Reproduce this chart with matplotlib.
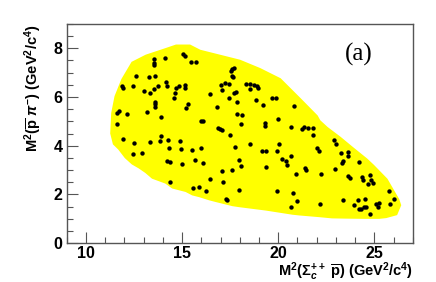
import matplotlib
matplotlib.use('Agg')
import matplotlib.pyplot as plt
from matplotlib.ticker import MultipleLocator

plt.rcParams['font.family'] = ['Liberation Sans', 'DejaVu Sans']
plt.rcParams['mathtext.fontset'] = 'custom'
plt.rcParams['mathtext.rm'] = 'Liberation Sans:bold'
plt.rcParams['mathtext.it'] = 'Liberation Sans:italic:bold'
plt.rcParams['mathtext.bf'] = 'Liberation Sans:bold'

# phase-space (MC) region outline
edge_x = [11.42, 11.37, 11.50, 11.76, 12.10, 12.45, 12.80, 13.15, 13.49, 14.18,
          14.53, 15.22, 15.56, 15.91, 16.43, 16.77, 17.64, 17.98, 19.37, 20.75,
          21.10, 22.14, 22.80, 23.51, 24.55, 25.24, 25.59, 26.10, 26.28, 26.19,
          25.59, 24.90, 24.55, 23.86, 23.17, 22.50, 22.10, 21.96, 21.10, 20.06,
          19.02, 17.98, 15.91, 15.39, 14.70, 14.18, 13.15, 12.45, 11.94, 11.59,
          11.42]
edge_y = [5.33, 4.51, 4.10, 3.90, 3.55, 3.30, 3.14, 2.95, 2.72, 2.52,
          2.32, 2.18, 2.04, 1.97, 1.84, 1.77, 1.60, 1.56, 1.42, 1.25,
          1.22, 1.15, 1.10, 1.09, 1.08, 1.08, 1.11, 1.22, 1.56, 1.77,
          2.59, 3.15, 3.41, 3.85, 4.30, 4.70, 4.99, 5.19, 5.88, 6.70,
          7.11, 7.45, 7.86, 8.07, 8.07, 7.93, 7.66, 7.38, 6.70, 6.01,
          5.33]

# data events
data_x = [13.54, 13.54, 13.56, 14.11, 15.06, 15.15, 15.44, 15.72, 17.59, 17.72,
          17.52, 13.59, 12.59, 13.30, 14.16, 14.22, 13.75, 13.54, 12.47, 11.90,
          11.95, 13.00, 13.35, 14.67, 14.86, 15.13, 15.17, 14.61, 14.57, 16.45,
          17.22, 17.43, 17.03, 17.05, 17.45, 17.67, 17.59, 17.78, 17.71, 18.33,
          18.54, 18.54, 18.74, 18.92, 18.97, 18.83, 19.66, 19.87, 17.86, 18.12,
          17.85, 19.19, 20.00, 20.82, 16.84, 16.07, 15.31, 15.20, 13.59, 13.60,
          13.58, 13.16, 12.11, 11.71, 11.64, 11.61, 13.91, 11.94, 12.49, 12.47,
          12.92, 13.35, 13.89, 13.86, 14.29, 14.32, 14.89, 14.94, 15.51, 16.00,
          14.22, 14.39, 14.98, 15.69, 16.10, 14.39, 15.55, 15.86, 16.24, 16.43,
          17.07, 17.14, 17.59, 17.26, 17.34, 17.95, 16.89, 16.98, 17.07, 17.47,
          17.74, 17.95, 18.05, 18.04, 18.54, 19.14, 19.31, 19.31, 19.38, 19.38,
          19.95, 20.02, 20.20, 20.40, 20.44, 20.68, 20.68, 19.94, 20.75, 20.96,
          20.68, 20.94, 21.23, 21.34, 21.54, 21.79, 21.80, 21.39, 21.44, 22.04,
          22.10, 22.17, 22.22, 22.89, 22.99, 22.96, 23.27, 23.34, 23.29, 23.34,
          23.63, 23.60, 23.65, 23.74, 23.95, 24.17, 24.22, 24.31, 24.20, 24.34,
          24.41, 24.53, 24.48, 24.58, 24.65, 24.76, 24.84, 24.93, 24.76, 25.07,
          25.21, 25.26, 25.76, 25.81, 26.00, 16.00]
data_y = [7.55, 7.41, 7.32, 7.59, 7.75, 7.70, 7.45, 7.45, 7.15, 7.18,
          7.07, 6.86, 6.86, 6.81, 6.63, 6.45, 6.47, 6.32, 6.45, 6.45,
          6.36, 6.25, 6.18, 6.37, 6.44, 6.49, 6.38, 6.15, 5.96, 6.11,
          6.56, 6.52, 6.49, 6.29, 5.97, 6.84, 6.86, 6.22, 6.16, 6.53,
          6.52, 6.33, 6.48, 6.44, 6.37, 5.89, 5.97, 5.97, 5.78, 5.26,
          5.32, 5.66, 5.08, 5.62, 5.58, 5.03, 5.71, 5.56, 5.78, 5.70,
          5.58, 5.37, 5.29, 5.42, 5.33, 4.88, 5.16, 4.29, 4.12, 3.64,
          3.71, 4.15, 4.41, 4.21, 4.22, 3.89, 4.19, 3.88, 3.82, 3.92,
          3.37, 3.33, 3.26, 3.41, 3.27, 2.52, 2.27, 2.29, 2.14, 2.63,
          2.96, 2.52, 2.99, 1.82, 1.78, 2.19, 4.74, 4.68, 4.63, 4.44,
          3.93, 3.42, 3.18, 4.88, 4.07, 3.78, 4.93, 4.81, 3.78, 3.14,
          3.78, 4.08, 3.44, 3.37, 3.21, 3.56, 4.75, 2.14, 2.07, 1.71,
          1.49, 2.84, 4.67, 4.78, 4.71, 4.74, 4.42, 3.07, 2.99, 3.89,
          3.79, 1.62, 2.84, 4.22, 4.08, 3.03, 3.71, 3.37, 3.27, 1.75,
          3.75, 3.59, 2.77, 2.66, 1.56, 1.77, 1.38, 1.42, 3.33, 2.71,
          2.59, 1.81, 1.47, 1.47, 2.41, 2.79, 2.59, 2.45, 1.18, 1.59,
          1.49, 1.63, 2.14, 1.59, 1.81, 5.03]

fig = plt.figure(figsize=(4.36, 2.82), dpi=100)
ax = fig.add_axes([0.153, 0.138, 0.794, 0.777])

ax.fill(edge_x, edge_y, color='#ffff00', edgecolor='#ffff00', linewidth=3, zorder=1)
ax.scatter(data_x, data_y, s=10, color='black', linewidths=0, zorder=3)

ax.set_xlim(9, 27)
ax.set_ylim(0, 9)
ax.xaxis.set_major_locator(MultipleLocator(5))
ax.xaxis.set_minor_locator(MultipleLocator(1))
ax.yaxis.set_major_locator(MultipleLocator(2))
ax.yaxis.set_minor_locator(MultipleLocator(0.5))
ax.tick_params(which='both', direction='in', color='#555555', width=0.8,
               labelsize=11.5)
ax.tick_params(axis='x', pad=2)
ax.tick_params(axis='y', pad=3)
ax.tick_params(which='major', length=8)
ax.tick_params(which='minor', length=4)
for lab in ax.get_xticklabels() + ax.get_yticklabels():
    lab.set_fontweight('bold')
for sp in ax.spines.values():
    sp.set_color('#555555')
    sp.set_linewidth(1)

ax.set_xlabel(r'M$^2$($\Sigma_c^{++}$ $\overline{\rm p}$) (GeV$^2$/c$^4$)',
              fontsize=10.5, fontweight='bold', ha='right', x=1.0, labelpad=0)
ax.set_ylabel(r'M$^2$($\overline{\rm p}$ $\pi^{-}$) (GeV$^2$/c$^4$)',
              fontsize=10.5, fontweight='bold', ha='right', y=1.0, labelpad=6)

ax.text(24.2, 7.75, '(a)', family='Liberation Serif', fontsize=18,
        ha='center', va='center')

fig.savefig('out.png', dpi=100)
